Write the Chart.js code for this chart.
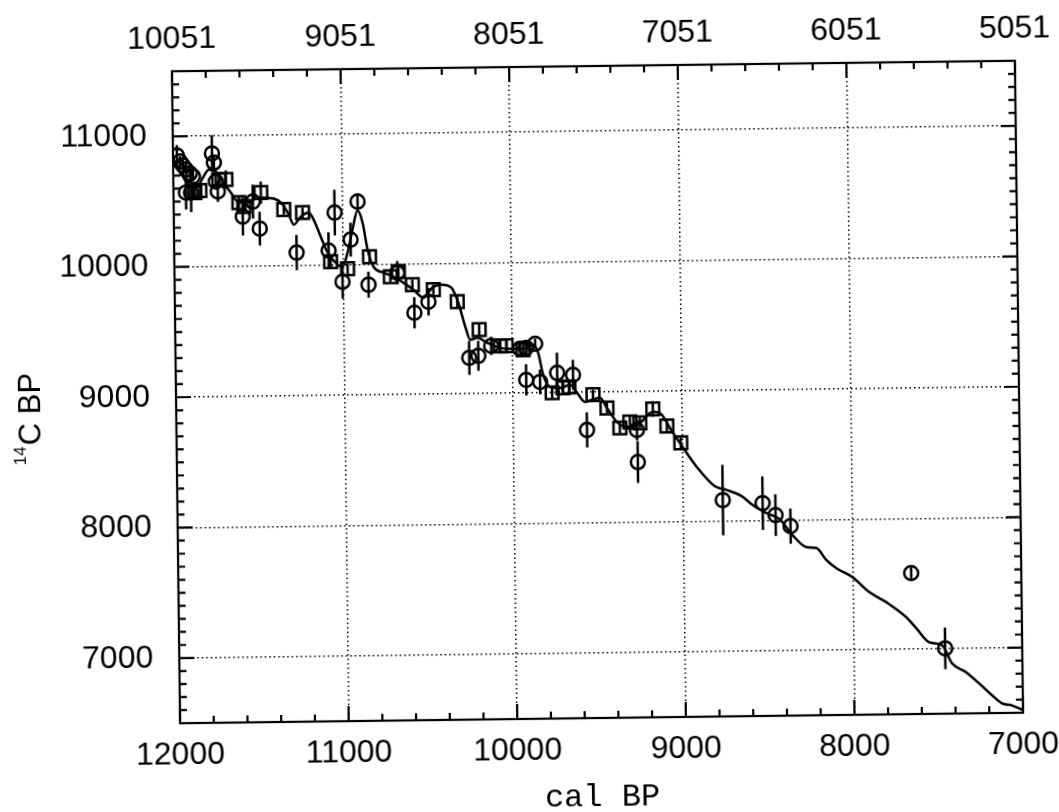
<html>
<head>
    <script src="https://cdn.jsdelivr.net/npm/chart.js"></script>
    <style>
        body { margin: 0; background: white; overflow: hidden; }
        /* the scanned figure is tilted a little, so the whole canvas is turned to match */
        #wrap { position: absolute; left: 0; top: 0; width: 1059px; height: 812px;
                transform: rotate(-0.716deg); transform-origin: 598px 392px; }
    </style>
</head>
<body>
    <div id="wrap"><canvas id="chart" width="1059" height="812"></canvas></div>

    <script>
        // axis ticks
        const calTicks = [12000, 11000, 10000, 9000, 8000, 7000];
        const bcTickLabels = ['10051', '9051', '8051', '7051', '6051', '5051'];
        const c14Ticks = [7000, 8000, 9000, 10000, 11000];

        // calibration curve (cal BP -> 14C BP)
        const curveCal = [12000, 11885, 11855, 11824, 11788, 11747, 11707, 11660, 11613, 11560, 11524, 11483,
            11406, 11353, 11318, 11289, 11247, 11200, 11171, 11130, 11090, 11032, 11003, 10972, 10941, 10910,
            10881, 10853, 10819, 10760, 10702, 10643, 10584, 10525, 10472, 10418, 10359, 10319, 10279, 10251,
            10209, 10150, 10074, 9997, 9938, 9878, 9849, 9821, 9781, 9722, 9662, 9621, 9575, 9533, 9486, 9445,
            9387, 9328, 9251, 9173, 9120, 9074, 9016, 8917, 8812, 8741, 8653, 8588, 8506, 8430, 8354, 8272,
            8213, 8155, 8096, 8002, 7902, 7802, 7685, 7627, 7551, 7475, 7417, 7334, 7258, 7182, 7124, 7065, 7000];
        const curveC14 = [10830, 10607, 10614, 10682, 10743, 10727, 10650, 10565, 10487, 10486, 10508, 10523,
            10514, 10467, 10390, 10313, 10373, 10403, 10349, 10218, 10095, 10002, 9985, 10092, 10269, 10414,
            10321, 10114, 9982, 9936, 9904, 9856, 9802, 9740, 9816, 9838, 9814, 9698, 9513, 9413,
            9427, 9388, 9348, 9339, 9338, 9368, 9306, 9137, 9044, 9035, 9057, 8995, 8925, 8940, 8955, 8877,
            8769, 8729, 8759, 8842, 8818, 8718, 8602, 8416, 8267, 8236, 8188, 8118, 8055, 8008, 7884, 7790,
            7782, 7689, 7626, 7556, 7439, 7360, 7243, 7158, 7049, 7025, 6885, 6815, 6729, 6636, 6573, 6557, 6520];

        // circles with error bars
        const circleCal = [11977, 11959, 11942, 11924, 11901, 11883, 11926, 11896, 11769, 11758, 11748, 11737,
            11591, 11530, 11491, 11274, 11084, 11046, 11004, 10953, 10909, 10850, 10678, 10580, 10496, 10258,
            10204, 10127, 9956, 9920, 9866, 9922, 9840, 9738, 9644, 9565, 9269, 9266, 8765, 8529, 8453, 8365,
            7653, 7457];
        const circleC14 = [10854, 10807, 10777, 10746, 10715, 10692, 10569, 10568, 10866, 10796, 10651, 10574,
            10379, 10493, 10285, 10098, 10110, 10401, 9870, 10192, 10483, 9845, 9934, 9625, 9708, 9274,
            9289, 9364, 9339, 9346, 9376, 9100, 9083, 9151, 9134, 8710, 8705, 8459, 8159, 8132, 8039, 7953,
            7581, 7001];
        const circleErr = [80, 40, 40, 40, 40, 40, 130, 150, 140, 50, 60, 80,
            145, 130, 130, 135, 140, 175, 130, 130, 65, 100, 90, 120, 105, 130,
            115, 70, 50, 50, 40, 120, 95, 155, 115, 135, 80, 160, 270, 205, 160, 135,
            45, 160];

        // squares with error bars
        const squareCal = [11873, 11843, 11730, 11688, 11613, 11584, 11482, 11347, 11236, 11073, 10973, 10842,
            10720, 10672, 10590, 10466, 10325, 10197, 10073, 10038, 9938, 9769, 9704, 9669, 9527, 9445,
            9370, 9310, 9251, 9173, 9091, 9010];
        const squareC14 = [10568, 10583, 10666, 10665, 10487, 10456, 10561, 10429, 10404, 10025, 9969, 10060,
            9904, 9942, 9840, 9800, 9706, 9489, 9363, 9363, 9330, 8998, 9035, 9042, 8979, 8877,
            8722, 8767, 8759, 8865, 8733, 8602];
        const squareErr = [50, 50, 40, 70, 40, 40, 85, 40, 40, 50, 40, 40,
            40, 40, 40, 40, 40, 50, 40, 40, 40, 40, 40, 50, 40, 40,
            40, 40, 40, 60, 40, 40];

        const toXY = (xs, ys) => xs.map((x, i) => ({ x: x, y: ys[i] }));
        const tickFont = { family: 'Liberation Sans', size: 32 };
        // tall line height pushes the x labels off the axis without using ticks.padding,
        // which would otherwise widen the right margin
        const xTickFont = { family: 'Liberation Sans', size: 32, lineHeight: 2 };

        const errorBars = {
            id: 'errorBars',
            afterDatasetsDraw(chart) {
                const ctx = chart.ctx, xs = chart.scales.x, ys = chart.scales.y, a = chart.chartArea;
                ctx.save();
                ctx.beginPath();
                ctx.rect(a.left, a.top, a.right - a.left, a.bottom - a.top);
                ctx.clip();
                ctx.strokeStyle = '#000';
                ctx.lineWidth = 2.5;
                chart.data.datasets.forEach(ds => {
                    if (!ds.errors) return;
                    ds.data.forEach((p, i) => {
                        const px = xs.getPixelForValue(p.x);
                        ctx.beginPath();
                        ctx.moveTo(px, ys.getPixelForValue(p.y - ds.errors[i]));
                        ctx.lineTo(px, ys.getPixelForValue(p.y + ds.errors[i]));
                        ctx.stroke();
                    });
                });
                ctx.restore();
            }
        };

        // box, inward ticks on all four sides, and the y title with its superscript
        const frame = {
            id: 'frame',
            afterDraw(chart) {
                const ctx = chart.ctx, xs = chart.scales.x, ys = chart.scales.y, a = chart.chartArea;
                ctx.save();
                ctx.strokeStyle = '#000';
                ctx.lineWidth = 2.2;
                ctx.strokeRect(a.left, a.top, a.right - a.left, a.bottom - a.top);
                ctx.beginPath();
                for (let v = 7000; v <= 12000; v += 200) {
                    const len = v % 1000 === 0 ? 15 : 7;
                    const px = xs.getPixelForValue(v);
                    ctx.moveTo(px, a.bottom); ctx.lineTo(px, a.bottom - len);
                    ctx.moveTo(px, a.top); ctx.lineTo(px, a.top + len);
                }
                for (let v = 6500; v <= 11500; v += 100) {
                    const len = v % 1000 === 0 ? 15 : 7;
                    const py = ys.getPixelForValue(v);
                    ctx.moveTo(a.left, py); ctx.lineTo(a.left + len, py);
                    ctx.moveTo(a.right, py); ctx.lineTo(a.right - len, py);
                }
                ctx.stroke();

                ctx.translate(28, 412);
                ctx.rotate(-Math.PI / 2);
                ctx.fillStyle = '#000';
                ctx.textBaseline = 'alphabetic';
                ctx.font = '17px "Liberation Sans"';
                const w1 = ctx.measureText('14').width;
                ctx.font = '31px "Liberation Sans"';
                const w2 = ctx.measureText('C BP').width;
                const x0 = -(w1 + 1 + w2) / 2;
                ctx.font = '17px "Liberation Sans"';
                ctx.fillText('14', x0, -3.5);
                ctx.font = '31px "Liberation Sans"';
                ctx.fillText('C BP', x0 + w1 + 1, 11.5);
                ctx.restore();
            }
        };

        new Chart(document.getElementById('chart'), {
            type: 'scatter',
            data: {
                datasets: [{
                    type: 'line',
                    data: toXY(curveCal, curveC14),
                    borderColor: '#000',
                    borderWidth: 2.5,
                    pointRadius: 0,
                    cubicInterpolationMode: 'monotone',
                    fill: false
                }, {
                    data: toXY(circleCal, circleC14),
                    errors: circleErr,
                    pointStyle: 'circle',
                    pointRadius: 7,
                    borderColor: '#000',
                    borderWidth: 2.5,
                    backgroundColor: 'transparent'
                }, {
                    data: toXY(squareCal, squareC14),
                    errors: squareErr,
                    pointStyle: 'rect',
                    pointRadius: 9,
                    borderColor: '#000',
                    borderWidth: 2.5,
                    backgroundColor: 'transparent'
                }]
            },
            options: {
                responsive: false,
                devicePixelRatio: 1,
                animation: false,
                layout: { padding: 0 },
                plugins: { legend: { display: false }, tooltip: { enabled: false } },
                scales: {
                    x: {
                        type: 'linear', position: 'bottom', min: 7000, max: 12000, reverse: true,
                        afterBuildTicks: s => { s.ticks = calTicks.map(v => ({ value: v })); },
                        afterFit: s => { s.height = 94; },
                        ticks: { font: xTickFont, color: '#000', padding: 0, maxRotation: 0, autoSkip: false,
                                 callback: v => String(v) },
                        grid: { color: '#000', lineWidth: 1.5, drawTicks: false },
                        border: { display: false, dash: [1.5, 3] },
                        title: { display: true, text: 'cal BP', color: '#000', padding: 0,
                                 font: { family: 'Liberation Mono', size: 32, lineHeight: 0.875 } }
                    },
                    x2: {
                        type: 'linear', position: 'top', min: 7000, max: 12000, reverse: true,
                        afterBuildTicks: s => { s.ticks = calTicks.map(v => ({ value: v })); },
                        afterFit: s => { s.height = 66; },
                        ticks: { font: xTickFont, color: '#000', padding: 0, maxRotation: 0, autoSkip: false,
                                 callback: v => bcTickLabels[calTicks.indexOf(v)] },
                        grid: { display: false, drawTicks: false },
                        border: { display: false }
                    },
                    y: {
                        type: 'linear', position: 'left', min: 6500, max: 11500,
                        afterBuildTicks: s => { s.ticks = c14Ticks.map(v => ({ value: v })); },
                        afterFit: s => { s.width = 176; },
                        ticks: { font: tickFont, color: '#000', padding: 26, callback: v => String(v) },
                        grid: { color: '#000', lineWidth: 1.5, drawTicks: false },
                        border: { display: false, dash: [1.5, 3] }
                    },
                    y2: {
                        type: 'linear', position: 'right', min: 6500, max: 11500,
                        afterFit: s => { s.width = 40; },
                        ticks: { display: false },
                        grid: { display: false, drawTicks: false },
                        border: { display: false }
                    }
                }
            },
            plugins: [errorBars, frame]
        });
    </script>
</body>
</html>
